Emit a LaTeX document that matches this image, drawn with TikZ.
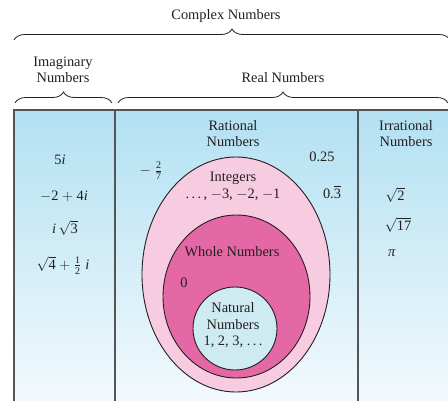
\documentclass[tikz,border=0pt]{standalone}
\usepackage{amsmath}
\usepackage{fontspec}
\setmainfont{Liberation Serif}
\usetikzlibrary{decorations.pathreplacing}
\definecolor{bgtop}{HTML}{B2E0F2}
\definecolor{bgbot}{HTML}{F3FAFD}
\definecolor{intpink}{HTML}{F7CCE0}
\definecolor{wholepink}{HTML}{E468A6}
\definecolor{natblue}{HTML}{CDEBF1}
\definecolor{textc}{HTML}{231F20}
\definecolor{boxc}{HTML}{555555}
\newcommand{\im}{\textit{i}}
\newcommand{\mn}{$-$}
\newcommand{\pl}{$+$}
\begin{document}
\begin{tikzpicture}[x=1pt,y=-1pt,
  font=\fontsize{14.4}{16.5}\selectfont,
  txt/.style={inner sep=0pt, align=center, text=textc},
  brc/.style={decorate, decoration={brace, amplitude=11pt}, line width=0.8pt, draw=textc},
  boxline/.style={draw=boxc, line width=1.4pt},
  setline/.style={draw=textc, line width=0.9pt}]
\useasboundingbox (0,0) rectangle (448,400);
\clip (0,0) rectangle (448,400);
% background
\shade[top color=bgtop, bottom color=bgbot] (14,110) rectangle (452,404);
% sets
\draw[setline, fill=intpink] (236,274.5) ellipse [x radius=94pt, y radius=117.5pt];
\draw[setline, fill=wholepink] (236.5,296.5) ellipse [x radius=73.5pt, y radius=81.5pt];
\draw[setline, fill=natblue] (235,328.5) ellipse [x radius=42pt, y radius=41.5pt];
% box lines
\draw[boxline] (14,404) -- (14,110) -- (452,110);
\draw[boxline] (115,110) -- (115,404);
\draw[boxline] (358,110) -- (358,404);
% braces
\coordinate (cL) at (14,40);
\coordinate (cR) at (450,40);
\coordinate (iL) at (15,103);
\coordinate (iR) at (112,103);
\coordinate (rL) at (118,103);
\coordinate (rR) at (448,103);
\draw[brc] (cL) -- (cR);
\draw[brc] (iL) -- (iR);
\draw[brc] (rL) -- (rR);
% headings
\node[txt] (complex) at (226,16) {Complex Numbers};
\node[txt] (imag) at (63,70) {Imaginary\\Numbers};
\node[txt] (real) at (283,78) {Real Numbers};
\node[txt] (rational) at (233,133.5) {Rational\\Numbers};
\node[txt] (irrational) at (406,133.5) {Irrational\\Numbers};
% imaginary examples
\node[txt] (i1) at (60,160) {5\im};
\node[txt] (i2) at (64,196) {\mn2 \pl\ 4\im};
\node[txt] (i3) at (65,228) {\im\,$\sqrt{\text{3}}$};
\node[txt] (i4) at (63,265) {$\sqrt{\text{4}}$ \pl\ $\tfrac{\text{1}}{\text{2}}$\;\im};
% rational examples
\node[txt] (r1) at (151,171) {\mn\;$\tfrac{\text{2}}{\text{7}}$};
\node[txt] (r2) at (322,157) {0.25};
\node[txt] (r3) at (332,192) {0.$\overline{\text{3}}$};
\node[txt] (integers) at (233,186.5) {Integers\\.\,.\,.\,, \mn3, \mn2, \mn1};
\node[txt] (whole) at (232,252) {Whole Numbers};
\node[txt] (zero) at (184,283) {0};
\node[txt] (natural) at (233,325.5) {Natural\\Numbers\\1, 2, 3, .\,.\,.};
% irrational examples
\node[txt] (q1) at (395,195) {$\sqrt{\text{2}}$};
\node[txt] (q2) at (398,225) {$\sqrt{\text{17}}$};
\node[txt] (q3) at (392,253) {\textit{π}};
\end{tikzpicture}
\end{document}
